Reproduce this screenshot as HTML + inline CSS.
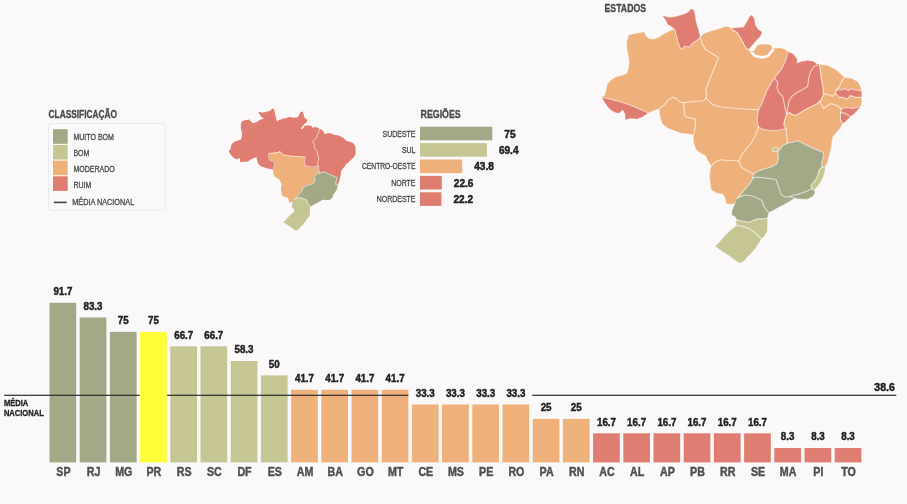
<!DOCTYPE html>
<html lang="pt-BR"><head><meta charset="utf-8"><title>Classificação por estados e regiões</title>
<style>
html,body{margin:0;padding:0;background:#faf8f8;}
body{width:907px;height:504px;overflow:hidden;}
svg{display:block;font-family:"Liberation Sans",Arial,sans-serif;}
</style></head><body>
<svg width="907" height="504" viewBox="0 0 907 504">
<rect width="907" height="504" fill="#faf8f8"/>
<text transform="translate(48.6,117.8) scale(0.8,1)" font-size="10.4" font-weight="bold" text-anchor="start" fill="#4a4a4a" stroke="#4a4a4a" stroke-width="0.3">CLASSIFICAÇÃO</text>
<rect x="48.6" y="123.5" width="116.6" height="86.8" rx="3" fill="#fbfafa" stroke="#ebe9e9" stroke-width="1"/>
<rect x="53" y="129.2" width="14.7" height="14.6" fill="#a3a886"/>
<text transform="translate(73.4,140.4) scale(0.81,1)" font-size="8.7" font-weight="normal" text-anchor="start" fill="#4a4a4a" stroke="#4a4a4a" stroke-width="0.3">MUITO BOM</text>
<rect x="53" y="144.9" width="14.7" height="14.6" fill="#c6c594"/>
<text transform="translate(73.4,156.2) scale(0.81,1)" font-size="8.7" font-weight="normal" text-anchor="start" fill="#4a4a4a" stroke="#4a4a4a" stroke-width="0.3">BOM</text>
<rect x="53" y="160.6" width="14.7" height="14.6" fill="#efb17b"/>
<text transform="translate(73.4,172.0) scale(0.81,1)" font-size="8.7" font-weight="normal" text-anchor="start" fill="#4a4a4a" stroke="#4a4a4a" stroke-width="0.3">MODERADO</text>
<rect x="53" y="176.3" width="14.7" height="14.6" fill="#e07d72"/>
<text transform="translate(73.4,187.8) scale(0.81,1)" font-size="8.7" font-weight="normal" text-anchor="start" fill="#4a4a4a" stroke="#4a4a4a" stroke-width="0.3">RUIM</text>
<rect x="54" y="201.6" width="12.7" height="1.6" fill="#444"/>
<text transform="translate(72.2,204.9) scale(0.84,1)" font-size="8.7" font-weight="normal" text-anchor="start" fill="#4a4a4a" stroke="#4a4a4a" stroke-width="0.3">MÉDIA NACIONAL</text>
<text transform="translate(420.5,118.3) scale(0.79,1)" font-size="11.2" font-weight="bold" text-anchor="start" fill="#4a4a4a" stroke="#4a4a4a" stroke-width="0.3">REGIÕES</text>
<rect x="420" y="126.7" width="72.3" height="13.6" fill="#a3a886"/>
<text transform="translate(415.4,136.5) scale(0.8,1)" font-size="8.7" font-weight="normal" text-anchor="end" fill="#4a4a4a" stroke="#4a4a4a" stroke-width="0.3">SUDESTE</text>
<text transform="translate(504.3,137.6) scale(0.98,1)" font-size="10.3" font-weight="bold" text-anchor="start" fill="#222" stroke="#222" stroke-width="0.45">75</text>
<rect x="420" y="143.1" width="66.9" height="13.6" fill="#c6c594"/>
<text transform="translate(415.4,152.9) scale(0.8,1)" font-size="8.7" font-weight="normal" text-anchor="end" fill="#4a4a4a" stroke="#4a4a4a" stroke-width="0.3">SUL</text>
<text transform="translate(498.9,154.0) scale(0.98,1)" font-size="10.3" font-weight="bold" text-anchor="start" fill="#222" stroke="#222" stroke-width="0.45">69.4</text>
<rect x="420" y="159.5" width="42.2" height="13.6" fill="#efb17b"/>
<text transform="translate(415.4,169.3) scale(0.775,1)" font-size="8.7" font-weight="normal" text-anchor="end" fill="#4a4a4a" stroke="#4a4a4a" stroke-width="0.3">CENTRO-OESTE</text>
<text transform="translate(474.2,170.4) scale(0.98,1)" font-size="10.3" font-weight="bold" text-anchor="start" fill="#222" stroke="#222" stroke-width="0.45">43.8</text>
<rect x="420" y="175.9" width="21.8" height="13.6" fill="#e07d72"/>
<text transform="translate(415.4,185.7) scale(0.8,1)" font-size="8.7" font-weight="normal" text-anchor="end" fill="#4a4a4a" stroke="#4a4a4a" stroke-width="0.3">NORTE</text>
<text transform="translate(453.8,186.8) scale(0.98,1)" font-size="10.3" font-weight="bold" text-anchor="start" fill="#222" stroke="#222" stroke-width="0.45">22.6</text>
<rect x="420" y="192.3" width="21.4" height="13.6" fill="#e07d72"/>
<text transform="translate(415.4,202.1) scale(0.8,1)" font-size="8.7" font-weight="normal" text-anchor="end" fill="#4a4a4a" stroke="#4a4a4a" stroke-width="0.3">NORDESTE</text>
<text transform="translate(453.4,203.2) scale(0.98,1)" font-size="10.3" font-weight="bold" text-anchor="start" fill="#222" stroke="#222" stroke-width="0.45">22.2</text>
<rect x="49.5" y="302.8" width="26.7" height="159.6" fill="#a3a886"/>
<text transform="translate(62.9,295.2) scale(0.93,1)" font-size="10.5" font-weight="bold" text-anchor="middle" fill="#222" stroke="#222" stroke-width="0.45">91.7</text>
<text transform="translate(63.4,476.2) scale(0.89,1)" font-size="12" font-weight="bold" text-anchor="middle" fill="#505050" stroke="#505050" stroke-width="0.45">SP</text>
<rect x="79.7" y="317.5" width="26.7" height="144.9" fill="#a3a886"/>
<text transform="translate(93.0,309.9) scale(0.93,1)" font-size="10.5" font-weight="bold" text-anchor="middle" fill="#222" stroke="#222" stroke-width="0.45">83.3</text>
<text transform="translate(93.5,476.2) scale(0.89,1)" font-size="12" font-weight="bold" text-anchor="middle" fill="#505050" stroke="#505050" stroke-width="0.45">RJ</text>
<rect x="109.9" y="331.9" width="26.7" height="130.5" fill="#a3a886"/>
<text transform="translate(123.2,324.3) scale(0.93,1)" font-size="10.5" font-weight="bold" text-anchor="middle" fill="#222" stroke="#222" stroke-width="0.45">75</text>
<text transform="translate(123.8,476.2) scale(0.89,1)" font-size="12" font-weight="bold" text-anchor="middle" fill="#505050" stroke="#505050" stroke-width="0.45">MG</text>
<rect x="140.1" y="331.9" width="26.7" height="130.5" fill="#fdfd38"/>
<text transform="translate(153.4,324.3) scale(0.93,1)" font-size="10.5" font-weight="bold" text-anchor="middle" fill="#222" stroke="#222" stroke-width="0.45">75</text>
<text transform="translate(153.9,476.2) scale(0.89,1)" font-size="12" font-weight="bold" text-anchor="middle" fill="#505050" stroke="#505050" stroke-width="0.45">PR</text>
<rect x="170.3" y="346.3" width="26.7" height="116.1" fill="#c6c594"/>
<text transform="translate(183.7,338.7) scale(0.93,1)" font-size="10.5" font-weight="bold" text-anchor="middle" fill="#222" stroke="#222" stroke-width="0.45">66.7</text>
<text transform="translate(184.2,476.2) scale(0.89,1)" font-size="12" font-weight="bold" text-anchor="middle" fill="#505050" stroke="#505050" stroke-width="0.45">RS</text>
<rect x="200.5" y="346.3" width="26.7" height="116.1" fill="#c6c594"/>
<text transform="translate(213.8,338.7) scale(0.93,1)" font-size="10.5" font-weight="bold" text-anchor="middle" fill="#222" stroke="#222" stroke-width="0.45">66.7</text>
<text transform="translate(214.3,476.2) scale(0.89,1)" font-size="12" font-weight="bold" text-anchor="middle" fill="#505050" stroke="#505050" stroke-width="0.45">SC</text>
<rect x="230.7" y="361.0" width="26.7" height="101.4" fill="#c6c594"/>
<text transform="translate(244.0,353.4) scale(0.93,1)" font-size="10.5" font-weight="bold" text-anchor="middle" fill="#222" stroke="#222" stroke-width="0.45">58.3</text>
<text transform="translate(244.5,476.2) scale(0.89,1)" font-size="12" font-weight="bold" text-anchor="middle" fill="#505050" stroke="#505050" stroke-width="0.45">DF</text>
<rect x="260.9" y="375.4" width="26.7" height="87.0" fill="#c6c594"/>
<text transform="translate(274.2,367.8) scale(0.93,1)" font-size="10.5" font-weight="bold" text-anchor="middle" fill="#222" stroke="#222" stroke-width="0.45">50</text>
<text transform="translate(274.8,476.2) scale(0.89,1)" font-size="12" font-weight="bold" text-anchor="middle" fill="#505050" stroke="#505050" stroke-width="0.45">ES</text>
<rect x="291.1" y="389.8" width="26.7" height="72.6" fill="#efb17b"/>
<text transform="translate(304.5,382.2) scale(0.93,1)" font-size="10.5" font-weight="bold" text-anchor="middle" fill="#222" stroke="#222" stroke-width="0.45">41.7</text>
<text transform="translate(305.0,476.2) scale(0.89,1)" font-size="12" font-weight="bold" text-anchor="middle" fill="#505050" stroke="#505050" stroke-width="0.45">AM</text>
<rect x="321.3" y="389.8" width="26.7" height="72.6" fill="#efb17b"/>
<text transform="translate(334.7,382.2) scale(0.93,1)" font-size="10.5" font-weight="bold" text-anchor="middle" fill="#222" stroke="#222" stroke-width="0.45">41.7</text>
<text transform="translate(335.2,476.2) scale(0.89,1)" font-size="12" font-weight="bold" text-anchor="middle" fill="#505050" stroke="#505050" stroke-width="0.45">BA</text>
<rect x="351.5" y="389.8" width="26.7" height="72.6" fill="#efb17b"/>
<text transform="translate(364.9,382.2) scale(0.93,1)" font-size="10.5" font-weight="bold" text-anchor="middle" fill="#222" stroke="#222" stroke-width="0.45">41.7</text>
<text transform="translate(365.4,476.2) scale(0.89,1)" font-size="12" font-weight="bold" text-anchor="middle" fill="#505050" stroke="#505050" stroke-width="0.45">GO</text>
<rect x="381.7" y="389.8" width="26.7" height="72.6" fill="#efb17b"/>
<text transform="translate(395.1,382.2) scale(0.93,1)" font-size="10.5" font-weight="bold" text-anchor="middle" fill="#222" stroke="#222" stroke-width="0.45">41.7</text>
<text transform="translate(395.6,476.2) scale(0.89,1)" font-size="12" font-weight="bold" text-anchor="middle" fill="#505050" stroke="#505050" stroke-width="0.45">MT</text>
<rect x="411.9" y="404.5" width="26.7" height="57.9" fill="#efb17b"/>
<text transform="translate(425.2,396.9) scale(0.93,1)" font-size="10.5" font-weight="bold" text-anchor="middle" fill="#222" stroke="#222" stroke-width="0.45">33.3</text>
<text transform="translate(425.8,476.2) scale(0.89,1)" font-size="12" font-weight="bold" text-anchor="middle" fill="#505050" stroke="#505050" stroke-width="0.45">CE</text>
<rect x="442.1" y="404.5" width="26.7" height="57.9" fill="#efb17b"/>
<text transform="translate(455.4,396.9) scale(0.93,1)" font-size="10.5" font-weight="bold" text-anchor="middle" fill="#222" stroke="#222" stroke-width="0.45">33.3</text>
<text transform="translate(455.9,476.2) scale(0.89,1)" font-size="12" font-weight="bold" text-anchor="middle" fill="#505050" stroke="#505050" stroke-width="0.45">MS</text>
<rect x="472.3" y="404.5" width="26.7" height="57.9" fill="#efb17b"/>
<text transform="translate(485.7,396.9) scale(0.93,1)" font-size="10.5" font-weight="bold" text-anchor="middle" fill="#222" stroke="#222" stroke-width="0.45">33.3</text>
<text transform="translate(486.2,476.2) scale(0.89,1)" font-size="12" font-weight="bold" text-anchor="middle" fill="#505050" stroke="#505050" stroke-width="0.45">PE</text>
<rect x="502.5" y="404.5" width="26.7" height="57.9" fill="#efb17b"/>
<text transform="translate(515.9,396.9) scale(0.93,1)" font-size="10.5" font-weight="bold" text-anchor="middle" fill="#222" stroke="#222" stroke-width="0.45">33.3</text>
<text transform="translate(516.4,476.2) scale(0.89,1)" font-size="12" font-weight="bold" text-anchor="middle" fill="#505050" stroke="#505050" stroke-width="0.45">RO</text>
<rect x="532.7" y="418.9" width="26.7" height="43.5" fill="#efb17b"/>
<text transform="translate(546.1,411.3) scale(0.93,1)" font-size="10.5" font-weight="bold" text-anchor="middle" fill="#222" stroke="#222" stroke-width="0.45">25</text>
<text transform="translate(546.6,476.2) scale(0.89,1)" font-size="12" font-weight="bold" text-anchor="middle" fill="#505050" stroke="#505050" stroke-width="0.45">PA</text>
<rect x="562.9" y="418.9" width="26.7" height="43.5" fill="#efb17b"/>
<text transform="translate(576.2,411.3) scale(0.93,1)" font-size="10.5" font-weight="bold" text-anchor="middle" fill="#222" stroke="#222" stroke-width="0.45">25</text>
<text transform="translate(576.8,476.2) scale(0.89,1)" font-size="12" font-weight="bold" text-anchor="middle" fill="#505050" stroke="#505050" stroke-width="0.45">RN</text>
<rect x="593.1" y="433.3" width="26.7" height="29.1" fill="#e07d72"/>
<text transform="translate(606.5,425.7) scale(0.93,1)" font-size="10.5" font-weight="bold" text-anchor="middle" fill="#222" stroke="#222" stroke-width="0.45">16.7</text>
<text transform="translate(607.0,476.2) scale(0.89,1)" font-size="12" font-weight="bold" text-anchor="middle" fill="#505050" stroke="#505050" stroke-width="0.45">AC</text>
<rect x="623.3" y="433.3" width="26.7" height="29.1" fill="#e07d72"/>
<text transform="translate(636.6,425.7) scale(0.93,1)" font-size="10.5" font-weight="bold" text-anchor="middle" fill="#222" stroke="#222" stroke-width="0.45">16.7</text>
<text transform="translate(637.1,476.2) scale(0.89,1)" font-size="12" font-weight="bold" text-anchor="middle" fill="#505050" stroke="#505050" stroke-width="0.45">AL</text>
<rect x="653.5" y="433.3" width="26.7" height="29.1" fill="#e07d72"/>
<text transform="translate(666.9,425.7) scale(0.93,1)" font-size="10.5" font-weight="bold" text-anchor="middle" fill="#222" stroke="#222" stroke-width="0.45">16.7</text>
<text transform="translate(667.4,476.2) scale(0.89,1)" font-size="12" font-weight="bold" text-anchor="middle" fill="#505050" stroke="#505050" stroke-width="0.45">AP</text>
<rect x="683.7" y="433.3" width="26.7" height="29.1" fill="#e07d72"/>
<text transform="translate(697.0,425.7) scale(0.93,1)" font-size="10.5" font-weight="bold" text-anchor="middle" fill="#222" stroke="#222" stroke-width="0.45">16.7</text>
<text transform="translate(697.5,476.2) scale(0.89,1)" font-size="12" font-weight="bold" text-anchor="middle" fill="#505050" stroke="#505050" stroke-width="0.45">PB</text>
<rect x="713.9" y="433.3" width="26.7" height="29.1" fill="#e07d72"/>
<text transform="translate(727.2,425.7) scale(0.93,1)" font-size="10.5" font-weight="bold" text-anchor="middle" fill="#222" stroke="#222" stroke-width="0.45">16.7</text>
<text transform="translate(727.8,476.2) scale(0.89,1)" font-size="12" font-weight="bold" text-anchor="middle" fill="#505050" stroke="#505050" stroke-width="0.45">RR</text>
<rect x="744.1" y="433.3" width="26.7" height="29.1" fill="#e07d72"/>
<text transform="translate(757.5,425.7) scale(0.93,1)" font-size="10.5" font-weight="bold" text-anchor="middle" fill="#222" stroke="#222" stroke-width="0.45">16.7</text>
<text transform="translate(758.0,476.2) scale(0.89,1)" font-size="12" font-weight="bold" text-anchor="middle" fill="#505050" stroke="#505050" stroke-width="0.45">SE</text>
<rect x="774.3" y="448.0" width="26.7" height="14.4" fill="#e07d72"/>
<text transform="translate(787.6,440.4) scale(0.93,1)" font-size="10.5" font-weight="bold" text-anchor="middle" fill="#222" stroke="#222" stroke-width="0.45">8.3</text>
<text transform="translate(788.1,476.2) scale(0.89,1)" font-size="12" font-weight="bold" text-anchor="middle" fill="#505050" stroke="#505050" stroke-width="0.45">MA</text>
<rect x="804.5" y="448.0" width="26.7" height="14.4" fill="#e07d72"/>
<text transform="translate(817.9,440.4) scale(0.93,1)" font-size="10.5" font-weight="bold" text-anchor="middle" fill="#222" stroke="#222" stroke-width="0.45">8.3</text>
<text transform="translate(818.4,476.2) scale(0.89,1)" font-size="12" font-weight="bold" text-anchor="middle" fill="#505050" stroke="#505050" stroke-width="0.45">PI</text>
<rect x="834.7" y="448.0" width="26.7" height="14.4" fill="#e07d72"/>
<text transform="translate(848.0,440.4) scale(0.93,1)" font-size="10.5" font-weight="bold" text-anchor="middle" fill="#222" stroke="#222" stroke-width="0.45">8.3</text>
<text transform="translate(848.5,476.2) scale(0.89,1)" font-size="12" font-weight="bold" text-anchor="middle" fill="#505050" stroke="#505050" stroke-width="0.45">TO</text>
<rect x="4.2" y="394.7" width="135.5" height="1.2" fill="#2c2c2c"/>
<rect x="167.2" y="394.7" width="241.2" height="1.2" fill="#2c2c2c"/>
<rect x="532.2" y="394.7" width="364.1" height="1.2" fill="#2c2c2c"/>
<text transform="translate(3.9,405.9) scale(0.83,1)" font-size="9.1" font-weight="bold" text-anchor="start" fill="#222" stroke="#222" stroke-width="0.3">MÉDIA</text>
<text transform="translate(3.9,415.8) scale(0.83,1)" font-size="9.1" font-weight="bold" text-anchor="start" fill="#222" stroke="#222" stroke-width="0.3">NACIONAL</text>
<text transform="translate(894.8,391.4) scale(1.0,1)" font-size="10.5" font-weight="bold" text-anchor="end" fill="#222" stroke="#222" stroke-width="0.45">38.6</text>
<text transform="translate(604.5,12.4) scale(0.84,1)" font-size="10.4" font-weight="bold" text-anchor="start" fill="#4a4a4a" stroke="#4a4a4a" stroke-width="0.3">ESTADOS</text>
<g stroke-linejoin="round" stroke-linecap="round">
<path d="M602.4,97.2 L604.9,95.6 L606.5,90.6 L607.4,84.8 L610.7,80.7 L615.6,77.4 L622.2,75.7 L627.2,74.0 L628.9,68.3 L629.5,62.0 L628.9,56.2 L627.2,48.0 L627.2,42.2 L628.9,35.6 L634.7,33.9 L641.3,33.0 L643.7,32.2 L645.4,35.6 L648.7,38.9 L653.7,39.7 L659.5,37.2 L664.4,33.9 L669.4,31.4 L674.7,29.3 L676.3,35.5 L677.8,41.7 L679.8,47.0 L681.7,49.4 L684.8,46.3 L689.4,47.0 L692.5,43.2 L696.3,40.9 L700.2,37.8 L702.5,44.6 L705.8,49.6 L712.4,53.7 L718.6,57.5 L715.7,64.5 L712.4,72.8 L709.0,81.5 L705.8,89.8 L706.6,94.7 L706.0,98.0 L704.0,100.5 L692.5,101.7 L683.6,102.6 L680.0,102.2 L676.8,98.9 L672.7,97.2 L668.5,99.7 L664.4,104.6 L659.5,108.4 L653.7,110.2 L647.9,112.8 L643.0,110.4 L634.7,107.0 L626.4,103.8 L618.0,101.3 L609.8,98.9 L602.4,97.2Z" fill="#efb17b" stroke="#efb17b" stroke-width="0.6"/>
<path d="M674.7,29.3 L671.6,26.2 L667.8,23.9 L666.2,20.0 L663.2,16.2 L669.3,17.7 L675.5,17.0 L680.9,15.4 L686.3,13.6 L689.4,11.6 L690.9,9.3 L693.2,10.0 L694.8,15.4 L695.6,21.6 L697.9,29.3 L699.4,35.5 L700.2,37.8 L696.3,40.9 L692.5,43.2 L689.4,47.0 L684.8,46.3 L681.7,49.4 L679.8,47.0 L677.8,41.7 L676.3,35.5 L674.7,29.3Z" fill="#e07d72" stroke="#e07d72" stroke-width="0.6"/>
<path d="M730.7,28.6 L737.9,28.0 L743.8,27.4 L746.8,22.6 L749.8,16.7 L752.0,15.5 L754.0,19.0 L755.0,25.0 L758.0,29.8 L761.7,32.0 L760.5,35.7 L757.0,39.3 L753.3,43.5 L749.8,47.6 L748.0,49.4 L745.6,47.6 L743.2,42.9 L740.2,37.5 L737.3,32.7 L733.7,30.4 L730.7,28.6Z" fill="#e07d72" stroke="#e07d72" stroke-width="0.6"/>
<path d="M602.4,97.2 L609.8,98.9 L618.0,101.3 L626.4,103.8 L634.7,107.0 L643.0,110.4 L647.9,112.8 L643.0,116.2 L637.0,118.7 L630.5,117.9 L625.6,119.5 L625.6,114.6 L623.0,109.6 L618.9,113.0 L614.8,112.0 L610.7,109.6 L608.2,107.0 L604.9,102.2 L602.4,97.2Z" fill="#e07d72" stroke="#e07d72" stroke-width="0.6"/>
<path d="M700.2,37.8 L704.0,33.9 L710.7,31.4 L717.3,29.8 L724.0,27.3 L728.0,26.8 L730.7,28.6 L733.7,30.4 L737.3,32.7 L740.2,37.5 L743.2,42.9 L745.6,47.6 L748.0,49.4 L750.5,52.5 L754.5,51.0 L755.7,48.8 L758.0,45.2 L762.9,44.6 L767.6,44.6 L771.0,45.8 L772.0,49.5 L774.8,48.8 L779.5,48.2 L784.3,49.4 L788.0,52.2 L785.8,59.8 L781.8,68.8 L776.9,74.7 L774.5,78.0 L771.4,82.5 L766.7,91.0 L762.0,103.0 L758.5,109.8 L745.0,109.0 L730.6,108.0 L720.7,107.0 L713.2,104.8 L709.0,101.5 L706.0,98.0 L706.6,94.7 L705.8,89.8 L709.0,81.5 L712.4,72.8 L715.7,64.5 L718.6,57.5 L712.4,53.7 L705.8,49.6 L702.5,44.6 L700.2,37.8Z" fill="#efb17b" stroke="#efb17b" stroke-width="0.6"/>
<path d="M683.6,102.6 L692.5,101.7 L704.0,100.5 L706.0,98.0 L709.0,101.5 L713.2,104.8 L720.7,107.0 L730.6,108.0 L745.0,109.0 L758.5,109.8 L757.0,118.6 L758.3,127.0 L755.4,135.7 L751.3,143.0 L745.5,149.8 L741.3,155.6 L738.9,161.3 L734.7,160.5 L728.0,160.5 L721.5,159.7 L716.5,161.3 L713.2,163.8 L711.6,166.3 L708.0,160.0 L706.0,155.5 L701.0,153.0 L696.4,149.5 L694.0,142.4 L693.8,134.5 L694.2,131.0 L695.8,124.5 L695.0,118.7 L690.0,117.9 L685.0,116.2 L683.9,109.6 L683.6,102.6Z" fill="#efb17b" stroke="#efb17b" stroke-width="0.6"/>
<path d="M659.5,108.4 L664.4,104.6 L668.5,99.7 L672.7,97.2 L676.8,98.9 L680.0,102.2 L683.6,102.6 L683.9,109.6 L685.0,116.2 L690.0,117.9 L695.0,118.7 L695.8,124.5 L694.2,131.0 L693.8,134.5 L687.6,133.6 L681.0,132.8 L674.3,130.3 L667.7,127.8 L662.8,123.7 L660.3,116.2 L659.5,108.4Z" fill="#efb17b" stroke="#efb17b" stroke-width="0.6"/>
<path d="M738.9,161.3 L734.7,160.5 L728.0,160.5 L721.5,159.7 L716.5,161.3 L713.2,163.8 L711.6,166.3 L710.7,169.6 L709.9,176.2 L710.7,182.8 L711.6,189.5 L716.5,192.6 L723.0,193.8 L725.6,198.3 L726.5,203.2 L730.6,204.0 L733.9,203.2 L737.2,198.3 L741.3,193.6 L746.3,187.8 L750.4,182.8 L752.9,177.9 L753.7,173.7 L751.3,173.0 L746.3,170.4 L741.3,167.0 L738.9,161.3Z" fill="#efb17b" stroke="#efb17b" stroke-width="0.6"/>
<path d="M758.3,127.0 L762.8,129.3 L767.8,130.0 L772.8,130.7 L779.4,130.0 L786.0,128.5 L786.8,136.5 L787.6,143.0 L782.7,145.6 L779.4,149.8 L777.7,151.4 L778.5,158.0 L776.9,163.8 L771.0,167.0 L764.5,168.8 L757.9,171.3 L753.7,173.7 L751.3,173.0 L746.3,170.4 L741.3,167.0 L738.9,161.3 L741.3,155.6 L745.5,149.8 L751.3,143.0 L755.4,135.7 L758.3,127.0Z" fill="#efb17b" stroke="#efb17b" stroke-width="0.6"/>
<path d="M774.5,78.0 L777.9,82.7 L776.9,87.6 L778.8,92.6 L782.8,96.5 L783.8,101.5 L784.8,107.5 L786.8,113.8 L784.8,119.4 L783.8,125.3 L786.0,128.5 L779.4,130.0 L772.8,130.7 L767.8,130.0 L762.8,129.3 L758.3,127.0 L757.0,118.6 L758.5,109.8 L762.0,103.0 L766.7,91.0 L771.4,82.5 L774.5,78.0Z" fill="#e07d72" stroke="#e07d72" stroke-width="0.6"/>
<path d="M788.0,52.2 L792.7,53.9 L796.7,58.8 L796.7,63.8 L801.7,61.8 L807.6,60.8 L813.6,61.8 L817.5,64.8 L813.6,66.8 L810.6,71.7 L808.6,78.7 L807.6,86.6 L802.7,89.6 L796.7,92.6 L791.7,96.5 L788.8,101.5 L787.8,107.5 L786.8,113.8 L784.8,107.5 L783.8,101.5 L782.8,96.5 L778.8,92.6 L776.9,87.6 L777.9,82.7 L774.5,78.0 L776.9,74.7 L781.8,68.8 L785.8,59.8 L788.0,52.2Z" fill="#e07d72" stroke="#e07d72" stroke-width="0.6"/>
<path d="M817.5,64.8 L819.5,64.8 L820.5,71.7 L821.5,79.7 L823.0,87.6 L823.5,93.6 L821.5,99.5 L819.5,101.5 L817.5,103.5 L811.6,106.5 L805.6,109.4 L800.7,112.4 L795.7,115.4 L791.7,114.4 L789.8,112.4 L786.8,113.8 L787.8,107.5 L788.8,101.5 L791.7,96.5 L796.7,92.6 L802.7,89.6 L807.6,86.6 L808.6,78.7 L810.6,71.7 L813.6,66.8 L817.5,64.8Z" fill="#e07d72" stroke="#e07d72" stroke-width="0.6"/>
<path d="M819.5,64.8 L827.5,65.8 L835.4,69.8 L841.3,74.7 L844.3,77.7 L841.3,81.7 L839.4,86.6 L836.4,90.0 L835.4,93.6 L832.4,96.5 L828.5,94.6 L823.5,93.6 L823.0,87.6 L821.5,79.7 L820.5,71.7 L819.5,64.8Z" fill="#efb17b" stroke="#efb17b" stroke-width="0.6"/>
<path d="M844.3,77.7 L851.3,78.7 L857.2,81.7 L860.2,86.6 L861.2,90.6 L855.2,90.0 L851.3,88.6 L848.3,90.6 L845.3,88.6 L842.3,89.6 L836.4,90.0 L839.4,86.6 L841.3,81.7 L844.3,77.7Z" fill="#efb17b" stroke="#efb17b" stroke-width="0.6"/>
<path d="M836.4,90.0 L842.3,89.6 L845.3,88.6 L848.3,90.6 L851.3,88.6 L855.2,90.0 L861.2,90.6 L861.2,97.4 L855.2,97.4 L850.3,95.6 L847.3,99.3 L843.3,97.4 L839.4,97.4 L837.4,95.4 L835.4,93.6 L836.4,90.0Z" fill="#e07d72" stroke="#e07d72" stroke-width="0.6"/>
<path d="M823.5,93.6 L828.5,94.6 L832.4,96.5 L835.4,93.6 L837.4,95.4 L839.4,97.4 L843.3,97.4 L847.3,99.3 L850.3,95.6 L855.2,97.4 L861.2,97.4 L861.5,101.0 L860.2,106.5 L853.3,108.5 L847.3,107.5 L841.3,108.5 L836.4,105.5 L831.4,103.5 L827.5,105.5 L823.5,108.5 L821.5,104.5 L819.5,101.5 L821.5,99.5 L823.5,93.6Z" fill="#efb17b" stroke="#efb17b" stroke-width="0.6"/>
<path d="M841.3,108.5 L847.3,107.5 L853.3,108.5 L860.2,106.5 L855.2,112.4 L850.3,116.4 L845.3,113.4 L840.6,112.4 L841.3,108.5Z" fill="#e07d72" stroke="#e07d72" stroke-width="0.6"/>
<path d="M840.6,112.4 L845.3,113.4 L850.3,116.4 L845.3,121.3 L842.3,123.3 L840.4,119.4 L840.6,112.4Z" fill="#e07d72" stroke="#e07d72" stroke-width="0.6"/>
<path d="M786.8,113.8 L789.8,112.4 L791.7,114.4 L795.7,115.4 L800.7,112.4 L805.6,109.4 L811.6,106.5 L817.5,103.5 L819.5,101.5 L821.5,104.5 L823.5,108.5 L827.5,105.5 L831.4,103.5 L836.4,105.5 L841.3,108.5 L840.6,112.4 L840.4,119.4 L842.3,123.3 L839.4,128.3 L835.4,133.3 L832.3,137.0 L831.5,141.5 L830.6,148.0 L829.0,154.7 L827.3,161.3 L824.9,167.0 L822.4,167.0 L821.5,163.8 L822.4,159.7 L824.0,155.6 L823.2,152.2 L819.0,150.6 L812.5,148.0 L805.8,144.8 L800.9,142.3 L797.6,140.7 L792.6,142.3 L787.6,143.0 L786.8,136.5 L786.0,128.5 L783.8,125.3 L784.8,119.4 L786.8,113.8Z" fill="#efb17b" stroke="#efb17b" stroke-width="0.6"/>
<path d="M787.6,143.0 L792.6,142.3 L797.6,140.7 L800.9,142.3 L805.8,144.8 L812.5,148.0 L819.0,150.6 L823.2,152.2 L824.0,155.6 L822.4,159.7 L821.5,163.8 L822.4,167.0 L819.0,169.6 L818.2,174.6 L815.8,179.5 L812.5,183.7 L810.8,186.0 L812.5,188.6 L807.5,191.0 L802.5,192.8 L797.6,194.4 L792.6,195.2 L790.0,196.8 L784.3,196.9 L781.0,194.4 L779.4,189.5 L777.7,184.5 L776.0,179.5 L771.0,178.7 L764.5,177.9 L757.9,177.0 L752.9,177.9 L753.7,173.7 L757.9,171.3 L764.5,168.8 L771.0,167.0 L776.9,163.8 L778.5,158.0 L777.7,151.4 L779.4,149.8 L782.7,145.6 L787.6,143.0Z" fill="#a3a886" stroke="#a3a886" stroke-width="0.6"/>
<path d="M822.4,167.0 L824.9,167.0 L824.0,173.0 L822.4,177.9 L819.0,183.7 L815.8,187.8 L814.0,190.3 L812.5,188.6 L810.8,186.0 L812.5,183.7 L815.8,179.5 L818.2,174.6 L819.0,169.6 L822.4,167.0Z" fill="#c6c594" stroke="#c6c594" stroke-width="0.6"/>
<path d="M812.5,188.6 L807.5,191.0 L802.5,192.8 L797.6,194.4 L792.6,195.2 L790.0,196.8 L794.3,197.8 L801.0,198.8 L807.5,198.8 L812.5,196.2 L814.5,193.0 L814.0,190.3 L812.5,188.6Z" fill="#a3a886" stroke="#a3a886" stroke-width="0.6"/>
<path d="M752.9,177.9 L757.9,177.0 L764.5,177.9 L771.0,178.7 L776.0,179.5 L777.7,184.5 L779.4,189.5 L781.0,194.4 L784.3,196.9 L790.0,196.8 L794.3,197.8 L790.0,200.7 L784.3,204.0 L779.4,206.5 L773.6,209.8 L768.6,212.3 L766.0,209.8 L763.7,205.7 L762.0,200.7 L757.9,198.3 L751.3,195.8 L744.6,195.0 L738.9,197.4 L737.2,198.3 L741.3,193.6 L746.3,187.8 L750.4,182.8 L752.9,177.9Z" fill="#a3a886" stroke="#a3a886" stroke-width="0.6"/>
<path d="M737.2,198.3 L738.9,197.4 L744.6,195.0 L751.3,195.8 L757.9,198.3 L762.0,200.7 L763.7,205.7 L766.0,209.8 L768.6,212.3 L767.8,214.8 L767.0,218.0 L763.7,218.9 L757.9,218.9 L752.9,220.6 L749.6,222.2 L743.0,221.4 L737.2,219.8 L735.6,216.5 L732.2,214.8 L732.2,211.5 L734.7,204.9 L737.2,198.3Z" fill="#a3a886" stroke="#a3a886" stroke-width="0.6"/>
<path d="M737.2,219.8 L743.0,221.4 L749.6,222.2 L752.9,220.6 L757.9,218.9 L763.7,218.9 L767.0,218.0 L767.0,224.7 L767.0,230.5 L764.5,235.5 L761.2,238.8 L757.9,235.5 L754.6,232.2 L749.6,228.9 L743.0,226.4 L737.2,225.5 L736.5,222.5 L737.2,219.8Z" fill="#c6c594" stroke="#c6c594" stroke-width="0.6"/>
<path d="M737.2,225.5 L743.0,226.4 L749.6,228.9 L754.6,232.2 L757.9,235.5 L761.2,238.8 L757.0,245.4 L752.9,251.0 L747.0,257.0 L743.8,261.0 L739.7,262.8 L734.7,259.5 L728.0,254.5 L721.5,250.4 L715.7,246.2 L719.0,243.0 L724.8,236.3 L731.4,229.7 L737.2,225.5Z" fill="#c6c594" stroke="#c6c594" stroke-width="0.6"/>
<rect x="773" y="147.3" width="5" height="4.2" fill="#c6c594"/>
<path d="M730.7,28.6 L733.7,30.4 L737.3,32.7 L740.2,37.5 L743.2,42.9 L745.6,47.6 L748.0,49.4" fill="none" stroke="#fff" stroke-width="1.15" stroke-opacity="0.6"/>
<path d="M602.4,97.2 L609.8,98.9 L618.0,101.3 L626.4,103.8 L634.7,107.0 L643.0,110.4 L647.9,112.8" fill="none" stroke="#fff" stroke-width="1.15" stroke-opacity="0.6"/>
<path d="M674.7,29.3 L676.3,35.5 L677.8,41.7 L679.8,47.0 L681.7,49.4 L684.8,46.3 L689.4,47.0 L692.5,43.2 L696.3,40.9 L700.2,37.8" fill="none" stroke="#fff" stroke-width="1.15" stroke-opacity="0.6"/>
<path d="M700.2,37.8 L702.5,44.6 L705.8,49.6 L712.4,53.7 L718.6,57.5 L715.7,64.5 L712.4,72.8 L709.0,81.5 L705.8,89.8 L706.6,94.7 L706.0,98.0" fill="none" stroke="#fff" stroke-width="1.15" stroke-opacity="0.6"/>
<path d="M683.6,102.6 L692.5,101.7 L704.0,100.5 L706.0,98.0" fill="none" stroke="#fff" stroke-width="1.15" stroke-opacity="0.6"/>
<path d="M659.5,108.4 L664.4,104.6 L668.5,99.7 L672.7,97.2 L676.8,98.9 L680.0,102.2 L683.6,102.6" fill="none" stroke="#fff" stroke-width="1.15" stroke-opacity="0.6"/>
<path d="M683.6,102.6 L683.9,109.6 L685.0,116.2 L690.0,117.9 L695.0,118.7 L695.8,124.5 L694.2,131.0 L693.8,134.5" fill="none" stroke="#fff" stroke-width="1.15" stroke-opacity="0.6"/>
<path d="M706.0,98.0 L709.0,101.5 L713.2,104.8 L720.7,107.0 L730.6,108.0 L745.0,109.0 L758.5,109.8" fill="none" stroke="#fff" stroke-width="1.15" stroke-opacity="0.6"/>
<path d="M774.5,78.0 L771.4,82.5 L766.7,91.0 L762.0,103.0 L758.5,109.8" fill="none" stroke="#fff" stroke-width="1.15" stroke-opacity="0.6"/>
<path d="M788.0,52.2 L785.8,59.8 L781.8,68.8 L776.9,74.7 L774.5,78.0" fill="none" stroke="#fff" stroke-width="1.15" stroke-opacity="0.6"/>
<path d="M758.5,109.8 L757.0,118.6 L758.3,127.0" fill="none" stroke="#fff" stroke-width="1.15" stroke-opacity="0.6"/>
<path d="M774.5,78.0 L777.9,82.7 L776.9,87.6 L778.8,92.6 L782.8,96.5 L783.8,101.5 L784.8,107.5 L786.8,113.8" fill="none" stroke="#fff" stroke-width="1.15" stroke-opacity="0.6"/>
<path d="M817.5,64.8 L813.6,66.8 L810.6,71.7 L808.6,78.7 L807.6,86.6 L802.7,89.6 L796.7,92.6 L791.7,96.5 L788.8,101.5 L787.8,107.5 L786.8,113.8" fill="none" stroke="#fff" stroke-width="1.15" stroke-opacity="0.6"/>
<path d="M786.8,113.8 L784.8,119.4 L783.8,125.3 L786.0,128.5" fill="none" stroke="#fff" stroke-width="1.15" stroke-opacity="0.6"/>
<path d="M758.3,127.0 L762.8,129.3 L767.8,130.0 L772.8,130.7 L779.4,130.0 L786.0,128.5" fill="none" stroke="#fff" stroke-width="1.15" stroke-opacity="0.6"/>
<path d="M819.5,64.8 L820.5,71.7 L821.5,79.7 L823.0,87.6 L823.5,93.6" fill="none" stroke="#fff" stroke-width="1.15" stroke-opacity="0.6"/>
<path d="M823.5,93.6 L821.5,99.5 L819.5,101.5" fill="none" stroke="#fff" stroke-width="1.15" stroke-opacity="0.6"/>
<path d="M819.5,101.5 L817.5,103.5 L811.6,106.5 L805.6,109.4 L800.7,112.4 L795.7,115.4 L791.7,114.4 L789.8,112.4 L786.8,113.8" fill="none" stroke="#fff" stroke-width="1.15" stroke-opacity="0.6"/>
<path d="M844.3,77.7 L841.3,81.7 L839.4,86.6 L836.4,90.0" fill="none" stroke="#fff" stroke-width="1.15" stroke-opacity="0.6"/>
<path d="M836.4,90.0 L835.4,93.6" fill="none" stroke="#fff" stroke-width="1.15" stroke-opacity="0.6"/>
<path d="M823.5,93.6 L828.5,94.6 L832.4,96.5 L835.4,93.6" fill="none" stroke="#fff" stroke-width="1.15" stroke-opacity="0.6"/>
<path d="M836.4,90.0 L842.3,89.6 L845.3,88.6 L848.3,90.6 L851.3,88.6 L855.2,90.0 L861.2,90.6" fill="none" stroke="#fff" stroke-width="1.15" stroke-opacity="0.6"/>
<path d="M835.4,93.6 L837.4,95.4 L839.4,97.4 L843.3,97.4 L847.3,99.3 L850.3,95.6 L855.2,97.4 L861.2,97.4" fill="none" stroke="#fff" stroke-width="1.15" stroke-opacity="0.6"/>
<path d="M819.5,101.5 L821.5,104.5 L823.5,108.5 L827.5,105.5 L831.4,103.5 L836.4,105.5 L841.3,108.5" fill="none" stroke="#fff" stroke-width="1.15" stroke-opacity="0.6"/>
<path d="M841.3,108.5 L847.3,107.5 L853.3,108.5 L860.2,106.5" fill="none" stroke="#fff" stroke-width="1.15" stroke-opacity="0.6"/>
<path d="M840.6,112.4 L845.3,113.4 L850.3,116.4" fill="none" stroke="#fff" stroke-width="1.15" stroke-opacity="0.6"/>
<path d="M841.3,108.5 L840.6,112.4" fill="none" stroke="#fff" stroke-width="1.15" stroke-opacity="0.6"/>
<path d="M840.6,112.4 L840.4,119.4 L842.3,123.3" fill="none" stroke="#fff" stroke-width="1.15" stroke-opacity="0.6"/>
<path d="M786.0,128.5 L786.8,136.5 L787.6,143.0" fill="none" stroke="#fff" stroke-width="1.15" stroke-opacity="0.6"/>
<path d="M758.3,127.0 L755.4,135.7 L751.3,143.0 L745.5,149.8 L741.3,155.6 L738.9,161.3" fill="none" stroke="#fff" stroke-width="1.15" stroke-opacity="0.6"/>
<path d="M738.9,161.3 L734.7,160.5 L728.0,160.5 L721.5,159.7 L716.5,161.3 L713.2,163.8 L711.6,166.3" fill="none" stroke="#fff" stroke-width="1.15" stroke-opacity="0.6"/>
<path d="M738.9,161.3 L741.3,167.0 L746.3,170.4 L751.3,173.0 L753.7,173.7" fill="none" stroke="#fff" stroke-width="1.15" stroke-opacity="0.6"/>
<path d="M787.6,143.0 L782.7,145.6 L779.4,149.8 L777.7,151.4 L778.5,158.0 L776.9,163.8 L771.0,167.0 L764.5,168.8 L757.9,171.3 L753.7,173.7" fill="none" stroke="#fff" stroke-width="1.15" stroke-opacity="0.6"/>
<path d="M753.7,173.7 L752.9,177.9" fill="none" stroke="#fff" stroke-width="1.15" stroke-opacity="0.6"/>
<path d="M752.9,177.9 L750.4,182.8 L746.3,187.8 L741.3,193.6 L737.2,198.3" fill="none" stroke="#fff" stroke-width="1.15" stroke-opacity="0.6"/>
<path d="M787.6,143.0 L792.6,142.3 L797.6,140.7 L800.9,142.3 L805.8,144.8 L812.5,148.0 L819.0,150.6 L823.2,152.2 L824.0,155.6 L822.4,159.7 L821.5,163.8 L822.4,167.0" fill="none" stroke="#fff" stroke-width="1.15" stroke-opacity="0.6"/>
<path d="M822.4,167.0 L824.9,167.0" fill="none" stroke="#fff" stroke-width="1.15" stroke-opacity="0.6"/>
<path d="M822.4,167.0 L819.0,169.6 L818.2,174.6 L815.8,179.5 L812.5,183.7 L810.8,186.0 L812.5,188.6" fill="none" stroke="#fff" stroke-width="1.15" stroke-opacity="0.6"/>
<path d="M812.5,188.6 L814.0,190.3" fill="none" stroke="#fff" stroke-width="1.15" stroke-opacity="0.6"/>
<path d="M812.5,188.6 L807.5,191.0 L802.5,192.8 L797.6,194.4 L792.6,195.2 L790.0,196.8" fill="none" stroke="#fff" stroke-width="1.15" stroke-opacity="0.6"/>
<path d="M790.0,196.8 L794.3,197.8" fill="none" stroke="#fff" stroke-width="1.15" stroke-opacity="0.6"/>
<path d="M752.9,177.9 L757.9,177.0 L764.5,177.9 L771.0,178.7 L776.0,179.5 L777.7,184.5 L779.4,189.5 L781.0,194.4 L784.3,196.9 L790.0,196.8" fill="none" stroke="#fff" stroke-width="1.15" stroke-opacity="0.6"/>
<path d="M737.2,198.3 L738.9,197.4 L744.6,195.0 L751.3,195.8 L757.9,198.3 L762.0,200.7 L763.7,205.7 L766.0,209.8 L768.6,212.3" fill="none" stroke="#fff" stroke-width="1.15" stroke-opacity="0.6"/>
<path d="M737.2,219.8 L743.0,221.4 L749.6,222.2 L752.9,220.6 L757.9,218.9 L763.7,218.9 L767.0,218.0" fill="none" stroke="#fff" stroke-width="1.15" stroke-opacity="0.6"/>
<path d="M737.2,225.5 L743.0,226.4 L749.6,228.9 L754.6,232.2 L757.9,235.5 L761.2,238.8" fill="none" stroke="#fff" stroke-width="1.15" stroke-opacity="0.6"/>
<rect x="773" y="147.3" width="5" height="4.2" fill="none" stroke="#fff" stroke-width="0.9" stroke-opacity="0.6"/>
<path d="M752,53 L755.5,56.2 L762,57.4 L768,56 L772.8,50" fill="none" stroke="#faf8f8" stroke-width="2.8"/>
</g>
<g transform="translate(-62.76,104.71) scale(0.485,0.4767)" stroke-linejoin="round" stroke-linecap="round">
<path d="M602.4,97.2 L604.9,95.6 L606.5,90.6 L607.4,84.8 L610.7,80.7 L615.6,77.4 L622.2,75.7 L627.2,74.0 L628.9,68.3 L629.5,62.0 L628.9,56.2 L627.2,48.0 L627.2,42.2 L628.9,35.6 L634.7,33.9 L641.3,33.0 L643.7,32.2 L645.4,35.6 L648.7,38.9 L653.7,39.7 L659.5,37.2 L664.4,33.9 L669.4,31.4 L674.7,29.3 L676.3,35.5 L677.8,41.7 L679.8,47.0 L681.7,49.4 L684.8,46.3 L689.4,47.0 L692.5,43.2 L696.3,40.9 L700.2,37.8 L702.5,44.6 L705.8,49.6 L712.4,53.7 L718.6,57.5 L715.7,64.5 L712.4,72.8 L709.0,81.5 L705.8,89.8 L706.6,94.7 L706.0,98.0 L704.0,100.5 L692.5,101.7 L683.6,102.6 L680.0,102.2 L676.8,98.9 L672.7,97.2 L668.5,99.7 L664.4,104.6 L659.5,108.4 L653.7,110.2 L647.9,112.8 L643.0,110.4 L634.7,107.0 L626.4,103.8 L618.0,101.3 L609.8,98.9 L602.4,97.2Z" fill="#e07d72" stroke="#e07d72" stroke-width="2.4"/>
<path d="M674.7,29.3 L671.6,26.2 L667.8,23.9 L666.2,20.0 L663.2,16.2 L669.3,17.7 L675.5,17.0 L680.9,15.4 L686.3,13.6 L689.4,11.6 L690.9,9.3 L693.2,10.0 L694.8,15.4 L695.6,21.6 L697.9,29.3 L699.4,35.5 L700.2,37.8 L696.3,40.9 L692.5,43.2 L689.4,47.0 L684.8,46.3 L681.7,49.4 L679.8,47.0 L677.8,41.7 L676.3,35.5 L674.7,29.3Z" fill="#e07d72" stroke="#e07d72" stroke-width="2.4"/>
<path d="M730.7,28.6 L737.9,28.0 L743.8,27.4 L746.8,22.6 L749.8,16.7 L752.0,15.5 L754.0,19.0 L755.0,25.0 L758.0,29.8 L761.7,32.0 L760.5,35.7 L757.0,39.3 L753.3,43.5 L749.8,47.6 L748.0,49.4 L745.6,47.6 L743.2,42.9 L740.2,37.5 L737.3,32.7 L733.7,30.4 L730.7,28.6Z" fill="#e07d72" stroke="#e07d72" stroke-width="2.4"/>
<path d="M602.4,97.2 L609.8,98.9 L618.0,101.3 L626.4,103.8 L634.7,107.0 L643.0,110.4 L647.9,112.8 L643.0,116.2 L637.0,118.7 L630.5,117.9 L625.6,119.5 L625.6,114.6 L623.0,109.6 L618.9,113.0 L614.8,112.0 L610.7,109.6 L608.2,107.0 L604.9,102.2 L602.4,97.2Z" fill="#e07d72" stroke="#e07d72" stroke-width="2.4"/>
<path d="M700.2,37.8 L704.0,33.9 L710.7,31.4 L717.3,29.8 L724.0,27.3 L728.0,26.8 L730.7,28.6 L733.7,30.4 L737.3,32.7 L740.2,37.5 L743.2,42.9 L745.6,47.6 L748.0,49.4 L750.5,52.5 L754.5,51.0 L755.7,48.8 L758.0,45.2 L762.9,44.6 L767.6,44.6 L771.0,45.8 L772.0,49.5 L774.8,48.8 L779.5,48.2 L784.3,49.4 L788.0,52.2 L785.8,59.8 L781.8,68.8 L776.9,74.7 L774.5,78.0 L771.4,82.5 L766.7,91.0 L762.0,103.0 L758.5,109.8 L745.0,109.0 L730.6,108.0 L720.7,107.0 L713.2,104.8 L709.0,101.5 L706.0,98.0 L706.6,94.7 L705.8,89.8 L709.0,81.5 L712.4,72.8 L715.7,64.5 L718.6,57.5 L712.4,53.7 L705.8,49.6 L702.5,44.6 L700.2,37.8Z" fill="#e07d72" stroke="#e07d72" stroke-width="2.4"/>
<path d="M683.6,102.6 L692.5,101.7 L704.0,100.5 L706.0,98.0 L709.0,101.5 L713.2,104.8 L720.7,107.0 L730.6,108.0 L745.0,109.0 L758.5,109.8 L757.0,118.6 L758.3,127.0 L755.4,135.7 L751.3,143.0 L745.5,149.8 L741.3,155.6 L738.9,161.3 L734.7,160.5 L728.0,160.5 L721.5,159.7 L716.5,161.3 L713.2,163.8 L711.6,166.3 L708.0,160.0 L706.0,155.5 L701.0,153.0 L696.4,149.5 L694.0,142.4 L693.8,134.5 L694.2,131.0 L695.8,124.5 L695.0,118.7 L690.0,117.9 L685.0,116.2 L683.9,109.6 L683.6,102.6Z" fill="#efb17b" stroke="#efb17b" stroke-width="2.4"/>
<path d="M659.5,108.4 L664.4,104.6 L668.5,99.7 L672.7,97.2 L676.8,98.9 L680.0,102.2 L683.6,102.6 L683.9,109.6 L685.0,116.2 L690.0,117.9 L695.0,118.7 L695.8,124.5 L694.2,131.0 L693.8,134.5 L687.6,133.6 L681.0,132.8 L674.3,130.3 L667.7,127.8 L662.8,123.7 L660.3,116.2 L659.5,108.4Z" fill="#e07d72" stroke="#e07d72" stroke-width="2.4"/>
<path d="M738.9,161.3 L734.7,160.5 L728.0,160.5 L721.5,159.7 L716.5,161.3 L713.2,163.8 L711.6,166.3 L710.7,169.6 L709.9,176.2 L710.7,182.8 L711.6,189.5 L716.5,192.6 L723.0,193.8 L725.6,198.3 L726.5,203.2 L730.6,204.0 L733.9,203.2 L737.2,198.3 L741.3,193.6 L746.3,187.8 L750.4,182.8 L752.9,177.9 L753.7,173.7 L751.3,173.0 L746.3,170.4 L741.3,167.0 L738.9,161.3Z" fill="#efb17b" stroke="#efb17b" stroke-width="2.4"/>
<path d="M758.3,127.0 L762.8,129.3 L767.8,130.0 L772.8,130.7 L779.4,130.0 L786.0,128.5 L786.8,136.5 L787.6,143.0 L782.7,145.6 L779.4,149.8 L777.7,151.4 L778.5,158.0 L776.9,163.8 L771.0,167.0 L764.5,168.8 L757.9,171.3 L753.7,173.7 L751.3,173.0 L746.3,170.4 L741.3,167.0 L738.9,161.3 L741.3,155.6 L745.5,149.8 L751.3,143.0 L755.4,135.7 L758.3,127.0Z" fill="#efb17b" stroke="#efb17b" stroke-width="2.4"/>
<path d="M774.5,78.0 L777.9,82.7 L776.9,87.6 L778.8,92.6 L782.8,96.5 L783.8,101.5 L784.8,107.5 L786.8,113.8 L784.8,119.4 L783.8,125.3 L786.0,128.5 L779.4,130.0 L772.8,130.7 L767.8,130.0 L762.8,129.3 L758.3,127.0 L757.0,118.6 L758.5,109.8 L762.0,103.0 L766.7,91.0 L771.4,82.5 L774.5,78.0Z" fill="#e07d72" stroke="#e07d72" stroke-width="2.4"/>
<path d="M788.0,52.2 L792.7,53.9 L796.7,58.8 L796.7,63.8 L801.7,61.8 L807.6,60.8 L813.6,61.8 L817.5,64.8 L813.6,66.8 L810.6,71.7 L808.6,78.7 L807.6,86.6 L802.7,89.6 L796.7,92.6 L791.7,96.5 L788.8,101.5 L787.8,107.5 L786.8,113.8 L784.8,107.5 L783.8,101.5 L782.8,96.5 L778.8,92.6 L776.9,87.6 L777.9,82.7 L774.5,78.0 L776.9,74.7 L781.8,68.8 L785.8,59.8 L788.0,52.2Z" fill="#e07d72" stroke="#e07d72" stroke-width="2.4"/>
<path d="M817.5,64.8 L819.5,64.8 L820.5,71.7 L821.5,79.7 L823.0,87.6 L823.5,93.6 L821.5,99.5 L819.5,101.5 L817.5,103.5 L811.6,106.5 L805.6,109.4 L800.7,112.4 L795.7,115.4 L791.7,114.4 L789.8,112.4 L786.8,113.8 L787.8,107.5 L788.8,101.5 L791.7,96.5 L796.7,92.6 L802.7,89.6 L807.6,86.6 L808.6,78.7 L810.6,71.7 L813.6,66.8 L817.5,64.8Z" fill="#e07d72" stroke="#e07d72" stroke-width="2.4"/>
<path d="M819.5,64.8 L827.5,65.8 L835.4,69.8 L841.3,74.7 L844.3,77.7 L841.3,81.7 L839.4,86.6 L836.4,90.0 L835.4,93.6 L832.4,96.5 L828.5,94.6 L823.5,93.6 L823.0,87.6 L821.5,79.7 L820.5,71.7 L819.5,64.8Z" fill="#e07d72" stroke="#e07d72" stroke-width="2.4"/>
<path d="M844.3,77.7 L851.3,78.7 L857.2,81.7 L860.2,86.6 L861.2,90.6 L855.2,90.0 L851.3,88.6 L848.3,90.6 L845.3,88.6 L842.3,89.6 L836.4,90.0 L839.4,86.6 L841.3,81.7 L844.3,77.7Z" fill="#e07d72" stroke="#e07d72" stroke-width="2.4"/>
<path d="M836.4,90.0 L842.3,89.6 L845.3,88.6 L848.3,90.6 L851.3,88.6 L855.2,90.0 L861.2,90.6 L861.2,97.4 L855.2,97.4 L850.3,95.6 L847.3,99.3 L843.3,97.4 L839.4,97.4 L837.4,95.4 L835.4,93.6 L836.4,90.0Z" fill="#e07d72" stroke="#e07d72" stroke-width="2.4"/>
<path d="M823.5,93.6 L828.5,94.6 L832.4,96.5 L835.4,93.6 L837.4,95.4 L839.4,97.4 L843.3,97.4 L847.3,99.3 L850.3,95.6 L855.2,97.4 L861.2,97.4 L861.5,101.0 L860.2,106.5 L853.3,108.5 L847.3,107.5 L841.3,108.5 L836.4,105.5 L831.4,103.5 L827.5,105.5 L823.5,108.5 L821.5,104.5 L819.5,101.5 L821.5,99.5 L823.5,93.6Z" fill="#e07d72" stroke="#e07d72" stroke-width="2.4"/>
<path d="M841.3,108.5 L847.3,107.5 L853.3,108.5 L860.2,106.5 L855.2,112.4 L850.3,116.4 L845.3,113.4 L840.6,112.4 L841.3,108.5Z" fill="#e07d72" stroke="#e07d72" stroke-width="2.4"/>
<path d="M840.6,112.4 L845.3,113.4 L850.3,116.4 L845.3,121.3 L842.3,123.3 L840.4,119.4 L840.6,112.4Z" fill="#e07d72" stroke="#e07d72" stroke-width="2.4"/>
<path d="M786.8,113.8 L789.8,112.4 L791.7,114.4 L795.7,115.4 L800.7,112.4 L805.6,109.4 L811.6,106.5 L817.5,103.5 L819.5,101.5 L821.5,104.5 L823.5,108.5 L827.5,105.5 L831.4,103.5 L836.4,105.5 L841.3,108.5 L840.6,112.4 L840.4,119.4 L842.3,123.3 L839.4,128.3 L835.4,133.3 L832.3,137.0 L831.5,141.5 L830.6,148.0 L829.0,154.7 L827.3,161.3 L824.9,167.0 L822.4,167.0 L821.5,163.8 L822.4,159.7 L824.0,155.6 L823.2,152.2 L819.0,150.6 L812.5,148.0 L805.8,144.8 L800.9,142.3 L797.6,140.7 L792.6,142.3 L787.6,143.0 L786.8,136.5 L786.0,128.5 L783.8,125.3 L784.8,119.4 L786.8,113.8Z" fill="#e07d72" stroke="#e07d72" stroke-width="2.4"/>
<path d="M787.6,143.0 L792.6,142.3 L797.6,140.7 L800.9,142.3 L805.8,144.8 L812.5,148.0 L819.0,150.6 L823.2,152.2 L824.0,155.6 L822.4,159.7 L821.5,163.8 L822.4,167.0 L819.0,169.6 L818.2,174.6 L815.8,179.5 L812.5,183.7 L810.8,186.0 L812.5,188.6 L807.5,191.0 L802.5,192.8 L797.6,194.4 L792.6,195.2 L790.0,196.8 L784.3,196.9 L781.0,194.4 L779.4,189.5 L777.7,184.5 L776.0,179.5 L771.0,178.7 L764.5,177.9 L757.9,177.0 L752.9,177.9 L753.7,173.7 L757.9,171.3 L764.5,168.8 L771.0,167.0 L776.9,163.8 L778.5,158.0 L777.7,151.4 L779.4,149.8 L782.7,145.6 L787.6,143.0Z" fill="#a3a886" stroke="#a3a886" stroke-width="2.4"/>
<path d="M822.4,167.0 L824.9,167.0 L824.0,173.0 L822.4,177.9 L819.0,183.7 L815.8,187.8 L814.0,190.3 L812.5,188.6 L810.8,186.0 L812.5,183.7 L815.8,179.5 L818.2,174.6 L819.0,169.6 L822.4,167.0Z" fill="#a3a886" stroke="#a3a886" stroke-width="2.4"/>
<path d="M812.5,188.6 L807.5,191.0 L802.5,192.8 L797.6,194.4 L792.6,195.2 L790.0,196.8 L794.3,197.8 L801.0,198.8 L807.5,198.8 L812.5,196.2 L814.5,193.0 L814.0,190.3 L812.5,188.6Z" fill="#a3a886" stroke="#a3a886" stroke-width="2.4"/>
<path d="M752.9,177.9 L757.9,177.0 L764.5,177.9 L771.0,178.7 L776.0,179.5 L777.7,184.5 L779.4,189.5 L781.0,194.4 L784.3,196.9 L790.0,196.8 L794.3,197.8 L790.0,200.7 L784.3,204.0 L779.4,206.5 L773.6,209.8 L768.6,212.3 L766.0,209.8 L763.7,205.7 L762.0,200.7 L757.9,198.3 L751.3,195.8 L744.6,195.0 L738.9,197.4 L737.2,198.3 L741.3,193.6 L746.3,187.8 L750.4,182.8 L752.9,177.9Z" fill="#a3a886" stroke="#a3a886" stroke-width="2.4"/>
<path d="M737.2,198.3 L738.9,197.4 L744.6,195.0 L751.3,195.8 L757.9,198.3 L762.0,200.7 L763.7,205.7 L766.0,209.8 L768.6,212.3 L767.8,214.8 L767.0,218.0 L763.7,218.9 L757.9,218.9 L752.9,220.6 L749.6,222.2 L743.0,221.4 L737.2,219.8 L735.6,216.5 L732.2,214.8 L732.2,211.5 L734.7,204.9 L737.2,198.3Z" fill="#c6c594" stroke="#c6c594" stroke-width="2.4"/>
<path d="M737.2,219.8 L743.0,221.4 L749.6,222.2 L752.9,220.6 L757.9,218.9 L763.7,218.9 L767.0,218.0 L767.0,224.7 L767.0,230.5 L764.5,235.5 L761.2,238.8 L757.9,235.5 L754.6,232.2 L749.6,228.9 L743.0,226.4 L737.2,225.5 L736.5,222.5 L737.2,219.8Z" fill="#c6c594" stroke="#c6c594" stroke-width="2.4"/>
<path d="M737.2,225.5 L743.0,226.4 L749.6,228.9 L754.6,232.2 L757.9,235.5 L761.2,238.8 L757.0,245.4 L752.9,251.0 L747.0,257.0 L743.8,261.0 L739.7,262.8 L734.7,259.5 L728.0,254.5 L721.5,250.4 L715.7,246.2 L719.0,243.0 L724.8,236.3 L731.4,229.7 L737.2,225.5Z" fill="#c6c594" stroke="#c6c594" stroke-width="2.4"/>
<path d="M683.6,102.6 L692.5,101.7 L704.0,100.5 L706.0,98.0" fill="none" stroke="#fff" stroke-width="2" stroke-opacity="0.6"/>
<path d="M788.0,52.2 L785.8,59.8 L781.8,68.8 L776.9,74.7 L774.5,78.0" fill="none" stroke="#fff" stroke-width="2" stroke-opacity="0.6"/>
<path d="M706.0,98.0 L709.0,101.5 L713.2,104.8 L720.7,107.0 L730.6,108.0 L745.0,109.0 L758.5,109.8" fill="none" stroke="#fff" stroke-width="2" stroke-opacity="0.6"/>
<path d="M758.5,109.8 L757.0,118.6 L758.3,127.0" fill="none" stroke="#fff" stroke-width="2" stroke-opacity="0.6"/>
<path d="M683.6,102.6 L683.9,109.6 L685.0,116.2 L690.0,117.9 L695.0,118.7 L695.8,124.5 L694.2,131.0 L693.8,134.5" fill="none" stroke="#fff" stroke-width="2" stroke-opacity="0.6"/>
<path d="M752.9,177.9 L750.4,182.8 L746.3,187.8 L741.3,193.6 L737.2,198.3" fill="none" stroke="#fff" stroke-width="2" stroke-opacity="0.6"/>
<path d="M753.7,173.7 L752.9,177.9" fill="none" stroke="#fff" stroke-width="2" stroke-opacity="0.6"/>
<path d="M758.3,127.0 L762.8,129.3 L767.8,130.0 L772.8,130.7 L779.4,130.0 L786.0,128.5" fill="none" stroke="#fff" stroke-width="2" stroke-opacity="0.6"/>
<path d="M786.0,128.5 L786.8,136.5 L787.6,143.0" fill="none" stroke="#fff" stroke-width="2" stroke-opacity="0.6"/>
<path d="M787.6,143.0 L782.7,145.6 L779.4,149.8 L777.7,151.4 L778.5,158.0 L776.9,163.8 L771.0,167.0 L764.5,168.8 L757.9,171.3 L753.7,173.7" fill="none" stroke="#fff" stroke-width="2" stroke-opacity="0.6"/>
<path d="M774.5,78.0 L777.9,82.7 L776.9,87.6 L778.8,92.6 L782.8,96.5 L783.8,101.5 L784.8,107.5 L786.8,113.8" fill="none" stroke="#fff" stroke-width="2" stroke-opacity="0.6"/>
<path d="M786.8,113.8 L784.8,119.4 L783.8,125.3 L786.0,128.5" fill="none" stroke="#fff" stroke-width="2" stroke-opacity="0.6"/>
<path d="M822.4,167.0 L824.9,167.0" fill="none" stroke="#fff" stroke-width="2" stroke-opacity="0.6"/>
<path d="M787.6,143.0 L792.6,142.3 L797.6,140.7 L800.9,142.3 L805.8,144.8 L812.5,148.0 L819.0,150.6 L823.2,152.2 L824.0,155.6 L822.4,159.7 L821.5,163.8 L822.4,167.0" fill="none" stroke="#fff" stroke-width="2" stroke-opacity="0.6"/>
<path d="M737.2,198.3 L738.9,197.4 L744.6,195.0 L751.3,195.8 L757.9,198.3 L762.0,200.7 L763.7,205.7 L766.0,209.8 L768.6,212.3" fill="none" stroke="#fff" stroke-width="2" stroke-opacity="0.6"/>
</g>
</svg>
</body></html>
